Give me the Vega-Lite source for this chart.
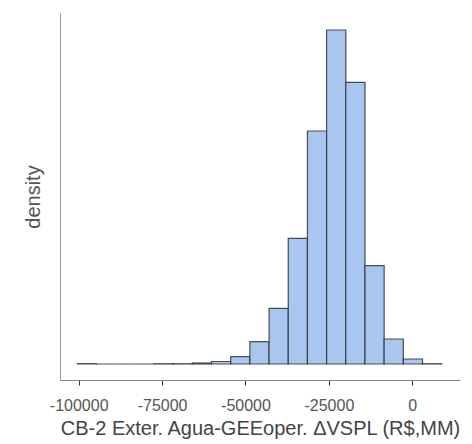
{
  "$schema": "https://vega.github.io/schema/vega-lite/v6.json",
  "width": 400,
  "height": 367,
  "autosize": "none",
  "padding": {"left": 60, "top": 13, "right": 12, "bottom": 64},
  "background": "white",
  "config": {
    "view": {"stroke": null},
    "font": "Liberation Sans",
    "axis": {"grid": false}
  },
  "data": {
    "values": [
      {"bin_start": -100420, "bin_end": -94671, "density": 4.4e-8},
      {"bin_start": -94671, "bin_end": -88922, "density": 0},
      {"bin_start": -88922, "bin_end": -83173, "density": 0},
      {"bin_start": -83173, "bin_end": -77424, "density": 0},
      {"bin_start": -77424, "bin_end": -71675, "density": 4.0e-8},
      {"bin_start": -71675, "bin_end": -65926, "density": 4.0e-8},
      {"bin_start": -65926, "bin_end": -60177, "density": 1.46e-7},
      {"bin_start": -60177, "bin_end": -54428, "density": 3.64e-7},
      {"bin_start": -54428, "bin_end": -48679, "density": 1.063e-6},
      {"bin_start": -48679, "bin_end": -42930, "density": 3.246e-6},
      {"bin_start": -42930, "bin_end": -37181, "density": 8.108e-6},
      {"bin_start": -37181, "bin_end": -31432, "density": 1.8297e-5},
      {"bin_start": -31432, "bin_end": -25683, "density": 3.3915e-5},
      {"bin_start": -25683, "bin_end": -19934, "density": 4.8617e-5},
      {"bin_start": -19934, "bin_end": -14185, "density": 4.1004e-5},
      {"bin_start": -14185, "bin_end": -8436, "density": 1.4309e-5},
      {"bin_start": -8436, "bin_end": -2687, "density": 3.639e-6},
      {"bin_start": -2687, "bin_end": 3062, "density": 7.28e-7},
      {"bin_start": 3062, "bin_end": 8811, "density": 4.4e-8}
    ]
  },
  "mark": {"type": "bar", "fill": "#a9c6f1", "stroke": "#333333", "strokeWidth": 1.2, "strokeOpacity": 0.85},
  "encoding": {
    "x": {
      "field": "bin_start",
      "type": "quantitative",
      "scale": {"domain": [-105600, 14300], "nice": false, "zero": false},
      "axis": {
        "title": "CB-2 Exter. Agua-GEEoper. ΔVSPL (R$,MM)",
        "values": [-100000, -75000, -50000, -25000, 0],
        "labelExpr": "'' + datum.value",
        "domainColor": "#888888",
        "domainWidth": 1,
        "tickColor": "#333333",
        "tickSize": 5,
        "labelFontSize": 16,
        "labelColor": "#555555",
        "labelPadding": 12,
        "titleFontSize": 20,
        "titleFontWeight": "normal",
        "titleColor": "#444444",
        "titlePadding": 5
      }
    },
    "x2": {"field": "bin_end"},
    "y": {
      "field": "density",
      "type": "quantitative",
      "scale": {"domain": [-2.329e-6, 5.109e-5], "nice": false, "zero": false},
      "axis": {
        "title": "density",
        "ticks": false,
        "labels": false,
        "domainColor": "#999999",
        "domainWidth": 1,
        "titleFontSize": 20,
        "titleFontWeight": "normal",
        "titleColor": "#555555",
        "titlePadding": 17
      }
    },
    "y2": {"datum": 0}
  }
}
